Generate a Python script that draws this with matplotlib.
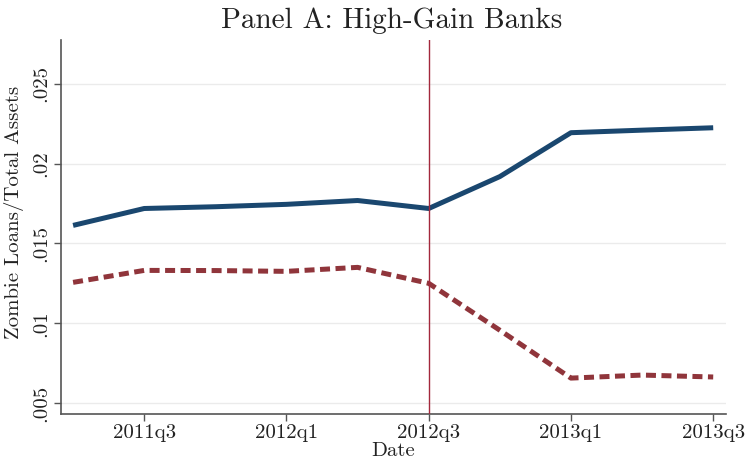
import matplotlib
matplotlib.use('Agg')
import matplotlib.pyplot as plt
import numpy as np

quarters = ['2011q2', '2011q3', '2011q4', '2012q1', '2012q2',
            '2012q3', '2012q4', '2013q1', '2013q2', '2013q3']
high_gain = [0.01613, 0.01719, 0.01730, 0.01745, 0.01769,
             0.01719, 0.01919, 0.02194, 0.02210, 0.02225]
other = [0.01256, 0.01331, 0.01330, 0.01325, 0.01350,
         0.01250, 0.00956, 0.00656, 0.00675, 0.00663]
xtick_labels = ['2011q3', '2012q1', '2012q3', '2013q1', '2013q3']
ytick_values = [0.005, 0.01, 0.015, 0.02, 0.025]
ytick_labels = ['.005', '.01', '.015', '.02', '.025']
event_quarter = '2012q3'

plt.rcParams['font.family'] = ['cmr10', 'DejaVu Serif']
plt.rcParams['axes.unicode_minus'] = False

fig = plt.figure(figsize=(7.48, 4.63), dpi=100)
ax = fig.add_axes([61/748, 49/463, 665/748, 374/463])

x = np.arange(len(quarters))
ax.plot(x, high_gain, color='#1a476f', lw=3.6, solid_capstyle='butt', zorder=3)
ax.plot(x, other, color='#90353b', lw=3.6, dashes=(2.0, 1.1), zorder=3)
ax.axvline(quarters.index(event_quarter), color='#a3283c', lw=1.0, zorder=4)

ax.set_xlim(-0.17, 9.18)
ax.set_ylim(0.00431, 0.02775)
ax.set_xticks([quarters.index(q) for q in xtick_labels])
ax.set_xticklabels(xtick_labels, fontsize=15, color='#222222')
ax.set_yticks(ytick_values)
ax.set_yticklabels(ytick_labels, fontsize=15, rotation=90, va='center',
                   color='#222222')
ax.tick_params(axis='both', length=5, width=1, color='#555555', pad=3)
ax.tick_params(axis='x', pad=2)

ax.yaxis.grid(True, color='#ebebeb', lw=1)
ax.set_axisbelow(True)
for s in ['top', 'right']:
    ax.spines[s].set_visible(False)
for s in ['left', 'bottom']:
    ax.spines[s].set_color('#555555')
    ax.spines[s].set_linewidth(1.2)

ax.set_xlabel('Date', fontsize=15, labelpad=0, color='#222222')
ax.set_ylabel('Zombie Loans/Total Assets', fontsize=15, color='#222222')
ax.yaxis.set_label_coords((24 - 61) / 665, (414 - 212) / 374)
fig.text(392/748, 1 - 21/463, 'Panel A: High-Gain Banks', fontsize=21,
         ha='center', va='center', color='#222222')

fig.savefig('out.png', dpi=100, facecolor='white')
